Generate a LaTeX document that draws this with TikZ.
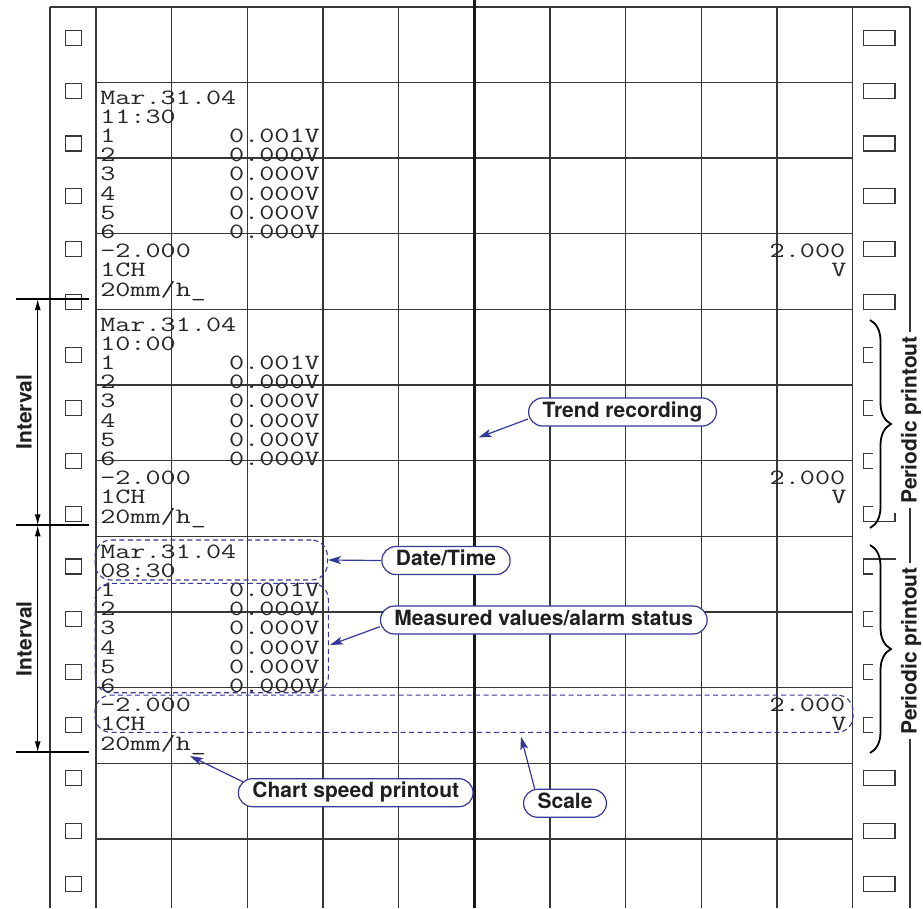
\documentclass[tikz,border=0pt]{standalone}
\usepackage{fontspec}
\newfontfamily\labfont{TeX Gyre Heros}
\usetikzlibrary{arrows.meta,decorations.pathreplacing}
\definecolor{callblue}{RGB}{52,56,150}
\definecolor{gridc}{RGB}{55,55,55}
\begin{document}
\begin{tikzpicture}[x=1pt,y=-1pt,
  gridline/.style={draw=gridc, line width=1.1pt},
  hole/.style={draw=gridc, line width=1.1pt, fill=white},
  mono/.style={inner sep=0pt, font=\ttfamily\fontsize{21.8pt}{21.8pt}\selectfont, xscale=1.346, text=black!85},
  callout/.style={draw=callblue, line width=1.2pt, fill=white, rounded corners=14pt, inner xsep=14pt, inner ysep=0pt, minimum height=28pt, text height=15pt, text depth=4.5pt, font=\labfont\bfseries\fontsize{21pt}{21pt}\selectfont, text=black!88},
  callarrow/.style={draw=callblue, line width=1.2pt, -{Stealth[length=13pt,width=8pt,inset=3pt]}},
  dbox/.style={draw=callblue, dash pattern=on 5pt off 3.5pt, line width=1.1pt, rounded corners=16pt, inner sep=0pt},
  dimarrow/.style={line width=1.2pt, {Latex[length=11pt,width=6pt]}-{Latex[length=11pt,width=6pt]}},
  sidelabel/.style={font=\labfont\bfseries\fontsize{21pt}{21pt}\selectfont, rotate=90, inner xsep=4pt, inner ysep=1pt, text=black!88},
  bracestyle/.style={line width=1.8pt, decorate, decoration={brace, amplitude=21pt}}
]
\useasboundingbox (0,0) rectangle (923,908);
\fill[white] (0,0) rectangle (923,908);
% grid
\foreach \i in {0,...,10} \draw[gridline] ({96+75.67*\i},7) -- ({96+75.67*\i},908);
\foreach \k in {0,...,10} \draw[gridline] (96,{82.3+75.67*\k}) -- (852.7,{82.3+75.67*\k});
\draw[gridline] (50,7) -- (910,7);
\draw[gridline] (50,7) -- (50,908);
\draw[gridline] (910,7) -- (910,908);
\draw[line width=2.8pt, black!90] (474.35,0) -- (474.35,908);
% sprocket holes
\foreach \k in {0,...,16} {
  \draw[hole] (65.3,{30.2+52.88*\k}) rectangle (81.3,{45.2+52.88*\k});
  \draw[hole] (863.3,{30.2+52.88*\k}) rectangle (895,{45.2+52.88*\k});
}
% masks behind braces
\fill[white] (873,318) rectangle (902,513);
\fill[white] (873,560) rectangle (902,748);
% braces
\draw[bracestyle] (870,320) -- (870,528);
\draw[bracestyle] (870,545) -- (870,753);
\node[sidelabel, fill=white] (pp1) at (911,420) {Periodic printout};
\node[sidelabel, fill=white] (pp2) at (911,651) {Periodic printout};
% interval marks
\draw[line width=2pt] (16,299) -- (89.3,299);
\draw[line width=2pt] (16,525.3) -- (89.3,525.3);
\draw[line width=2pt] (16,752.3) -- (89.3,752.3);
\coordinate (iv0) at (37.7,299);
\coordinate (iv1) at (37.7,525.3);
\coordinate (iv2) at (37.7,752.3);
\draw[dimarrow] (iv0) -- (iv1);
\draw[dimarrow] (iv1) -- (iv2);
\node[sidelabel] (int1) at (24,412) {Interval};
\node[sidelabel] (int2) at (24,638.8) {Interval};
% printout blocks
\foreach \b/\Y/\t in {1/82.3/11:30, 2/309.3/10:00, 3/536.3/08:30} {
  \node[mono, anchor=base west] (b\b-date) at (100,{\Y+21.7}) {Mar.31.04};
  \node[mono, anchor=base west] (b\b-time) at (100,{\Y+21.7+19.2}) {\t};
  \foreach \n in {1,...,6}
    \node[mono, anchor=base west] (b\b-ch\n) at (100,{\Y+21.7+19.2*(\n+1)}) {\n};
  \node[mono, anchor=base east] (b\b-v1) at (320,{\Y+21.7+19.2*2}) {0.001V};
  \foreach \n in {2,...,6}
    \node[mono, anchor=base east] (b\b-v\n) at (320,{\Y+21.7+19.2*(\n+1)}) {0.000V};
  \node[mono, anchor=base west] (b\b-lo) at (100,{\Y+21.7+19.2*8}) {\textendash2.000};
  \node[mono, anchor=base west] (b\b-ch) at (100,{\Y+21.7+19.2*9}) {1CH};
  \node[mono, anchor=base west] (b\b-sp) at (100,{\Y+21.7+19.2*10}) {20mm/h\_};
  \node[mono, anchor=base east] (b\b-hi) at (845.5,{\Y+21.7+19.2*8}) {2.000};
  \node[mono, anchor=base east] (b\b-un) at (846.7,{\Y+21.7+19.2*9}) {V};
}
% dashed highlight boxes
\node[dbox, minimum width=232.3pt, minimum height=40pt] (dtbox) at (211.2,560) {};
\node[dbox, minimum width=233.3pt, minimum height=109.4pt] (mvbox) at (211.7,638) {};
\node[dbox, minimum width=758pt, minimum height=37.3pt] (scbox) at (474,713.7) {};
% callouts
\node[callout] (trend) at (622.5,412) {Trend recording};
\node[callout] (datet) at (446,560.5) {Date/Time};
\node[callout] (meas) at (543.8,620) {Measured values/alarm status};
\node[callout] (speed) at (355.7,792.7) {Chart speed printout};
\node[callout] (scale) at (565,803.3) {Scale};
\coordinate (trendtip) at (478.5,437.5);
\coordinate (meastip) at (330,645);
\coordinate (speedtip) at (190,756);
\coordinate (scaletip) at (521,736.7);
\draw[callarrow] ([yshift=-7pt]trend.west) -- (trendtip);
\draw[callarrow] (datet.west) -- (dtbox.east);
\draw[callarrow] ([yshift=-6.7pt]meas.west) -- (meastip);
\draw[callarrow] ([xshift=5pt,yshift=11pt]speed.west) -- (speedtip);
\draw[callarrow] ([xshift=11.7pt]scale.north west) -- (scaletip);
\end{tikzpicture}
\end{document}
